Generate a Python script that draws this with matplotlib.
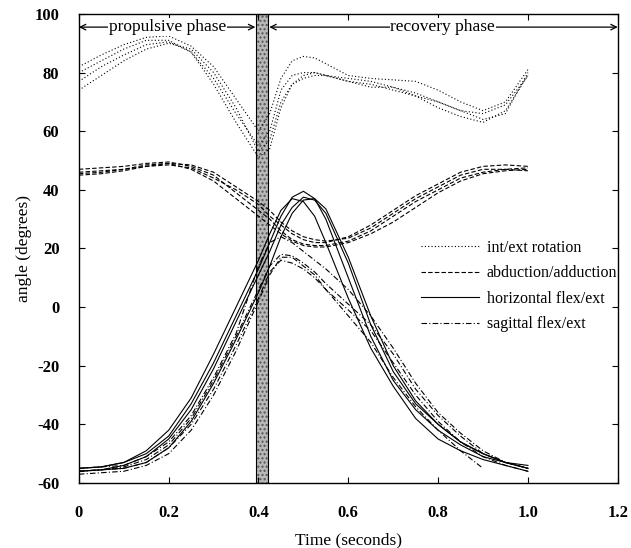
import numpy as np
import matplotlib
matplotlib.use("Agg")
import matplotlib.pyplot as plt

# sample times (s) shared by all traces
t = [0, .05, .1, .15, .2, .25, .3, .35, .4, .425, .45, .475, .5,
     .525, .55, .6, .65, .7, .75, .8, .85, .9, .95, 1.0]
nan = float("nan")

# int/ext rotation (dotted)
rot = [
    [82, 86, 89.5, 92, 92.5, 89, 82, 71, 60, 66, 78, 84, 85.5, 85, 83, 79, 78, 77.5, 77, 74, 70, 67, 70, 81],
    [80, 84, 88, 91, 91, 87, 78, 66, 55, 60, 74, 79, 80, 80, 79, 77, 76, 74, 72, 70, 67, 66, 69, 79],
    [77, 82, 86, 89.5, 90.5, 87, 76, 63, 51, 54, 68, 76, 79, 80, 79, 77, 75, 75, 73, 70, 67, 64, 66, 80],
    [74, 79, 84, 88, 90, 88, 80, 68, 53, 57, 70, 76, 78, 79, 79, 78, 77, 75, 72, 68, 65, 63, 67, 79],
]
# abduction/adduction (dashed)
abd = [
    [47, 47.5, 48, 49, 49.5, 48, 45, 39, 33, 30, 26, 23, 21.5, 21, 21, 22.5, 26, 31, 36, 40, 44, 46, 47, 47.5],
    [46, 46.5, 47, 48.5, 49, 47, 43, 37, 31, 28, 25, 22.5, 21, 20.5, 20.5, 22, 25, 29, 34, 39, 43, 45.5, 46.5, 47],
    [45, 45.5, 46.5, 48, 48.5, 47.5, 44, 40, 35, 31, 28, 25, 23, 22, 22, 24, 28, 33, 38, 42, 46, 48, 48.5, 48],
    [45.5, 46, 47, 48, 49, 48.5, 46, 41, 36, 33, 29, 26, 24, 23, 22.5, 23.5, 27, 32, 37, 41, 45, 47, 47, 46.5],
]
# horizontal flex/ext (solid)
hor = [
    [-55, -54.5, -53, -49, -42, -31, -16, 0, 16, 25, 33, 37, 36, 31, 22, 3, -14, -27, -38, -45, -49, -52, -54, -56],
    [-55, -54.5, -53, -50, -44, -33, -19, -3, 13, 22, 31, 37.5, 39.5, 37, 30, 10, -10, -25, -35, -42, -47, -51, -53, -55],
    [-56, -55.5, -54, -51, -45, -35, -21, -5, 11, 19, 28, 34, 37.5, 36.5, 32, 15, -6, -22, -33, -40, -46, -50, -53, -55],
    [-56, -55.5, -55, -53, -48, -39, -26, -11, 5, 14, 24, 32, 36.5, 37, 33.5, 17, -3, -20, -32, -40, -46, -50, -53, -54],
]
# sagittal flex/ext (dash-dot)
sag = [
    [-56, -55.5, -54.5, -52, -47, -38, -25, -10, 6, 14, 18, 17.5, 15, 12, 8, 1, -6, -16, -28, -37, -44, -50, -53, -55],
    [-57, -56.5, -56, -54, -50, -42, -30, -15, 2, 11, 17, 17, 14, 11, 6, -3, -12, -24, -34, -42, -49, -55, nan, nan],
    [-56, -55.5, -55, -53, -48, -40, -28, -13, 3, 12, 16, 15, 13, 10, 6, -1, -8, -19, -30, -39, -46, -51, -54, -56],
    [-55, -54.5, -54, -51, -46, -37, -24, -9, 14, 22, 24, 22, 19, 16, 13, 6, -3, -14, -26, -36, -43, -49, -53, -55],
]

labels = ["int/ext rotation", "abduction/adduction",
          "horizontal flex/ext", "sagittal flex/ext"]
xticks = [0, 0.2, 0.4, 0.6, 0.8, 1.0, 1.2]
xtick_labels = ["0", "0.2", "0.4", "0.6", "0.8", "1.0", "1.2"]
yticks = [-60, -40, -20, 0, 20, 40, 60, 80, 100]

plt.rcParams["font.family"] = "Liberation Serif"
plt.rcParams["axes.unicode_minus"] = False

fig = plt.figure(figsize=(6.31, 5.48), dpi=100)
ax = fig.add_axes([0.125, 0.1186, 0.854, 0.856])

styles = [(0, (1, 2)), (0, (4, 2)), "-", (0, (5, 2, 1, 2))]
for grp, ls, lab in zip([rot, abd, hor, sag], styles, labels):
    for i, y in enumerate(grp):
        ax.plot(t, y, color="k", lw=0.8, ls=ls, label=lab if i == 0 else None)

# end of propulsive phase
ax.axvspan(0.395, 0.422, facecolor="#b8b8b8", edgecolor="#555555",
           hatch="....", lw=0)
ax.axvspan(0.395, 0.422, facecolor="none", edgecolor="k", lw=0.8)

# phase arrows
ax.annotate("", xy=(0.0, 95.5), xytext=(0.393, 95.5),
            arrowprops=dict(arrowstyle="<->", lw=0.9, color="k",
                            shrinkA=0, shrinkB=0))
ax.annotate("", xy=(0.424, 95.5), xytext=(1.2, 95.5),
            arrowprops=dict(arrowstyle="<->", lw=0.9, color="k",
                            shrinkA=0, shrinkB=0))
ax.text(0.197, 95.5, "propulsive phase", ha="center", va="center",
        fontsize=12.5, bbox=dict(fc="white", ec="none", pad=0.5))
ax.text(0.81, 95.5, "recovery phase", ha="center", va="center",
        fontsize=12.5, bbox=dict(fc="white", ec="none", pad=0.5))

ax.set_xlim(0, 1.2)
ax.set_ylim(-60, 100)
ax.set_xticks(xticks)
ax.set_xticklabels(xtick_labels)
ax.set_yticks(yticks)
ax.tick_params(direction="in", top=True, right=True, length=4,
               labelsize=12)
ax.tick_params(axis="x", pad=16)
ax.tick_params(axis="y", pad=14)
for lbl in ax.get_xticklabels() + ax.get_yticklabels():
    lbl.set_fontweight("bold")
for s in ax.spines.values():
    s.set_linewidth(1.0)

ax.set_xlabel("Time (seconds)", fontsize=12.5, labelpad=8)
ax.set_ylabel("angle (degrees)", fontsize=12.5, labelpad=2)

ax.legend(loc="center left", bbox_to_anchor=(0.615, 0.42), frameon=False,
          fontsize=11.5, handlelength=3.6, handletextpad=0.5,
          labelspacing=0.6, borderpad=0.2)

fig.savefig("out.png", dpi=100)
